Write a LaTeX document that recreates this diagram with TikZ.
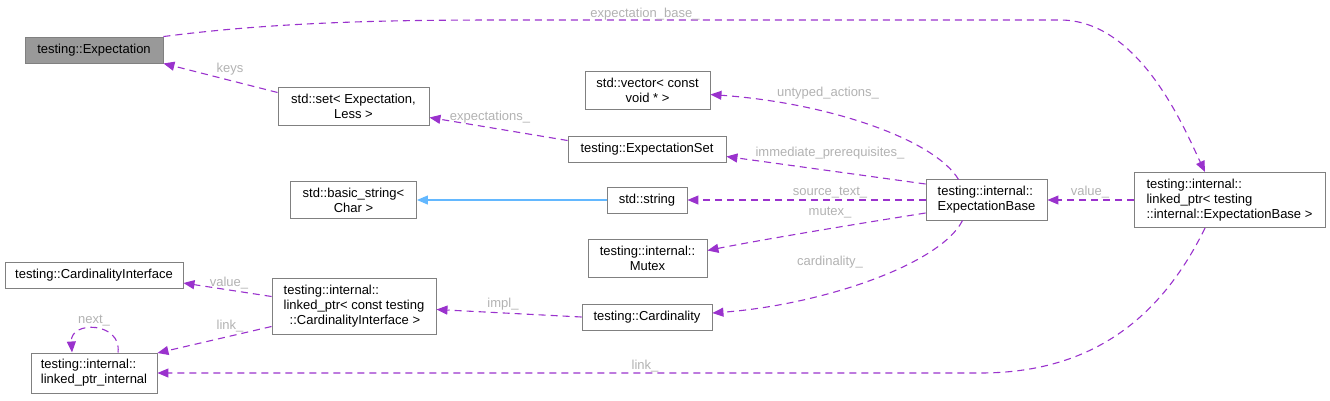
\documentclass[tikz,border=0pt]{standalone}
\usepackage{fontspec}
\setmainfont{Liberation Sans}
\usetikzlibrary{arrows.meta}
\definecolor{relpurple}{HTML}{9A32CD}
\definecolor{inhblue}{HTML}{63B8FF}

\begin{document}
\begin{tikzpicture}[x=1pt,y=-1pt,
  cls/.style={draw=black!50, line width=0.9pt, fill=white, inner xsep=8pt, inner ysep=6.5pt,
    minimum height=26pt, font=\fontsize{13}{15}\selectfont},
  lbl/.style={text=black!30, inner sep=1pt, font=\fontsize{13}{15}\selectfont},
  rel/.style={relpurple, line width=1.1pt, dash pattern=on 7pt off 5pt,
    -{Triangle[length=11pt,width=9pt]}},
  inh/.style={inhblue, line width=1.1pt, -{Triangle[length=11pt,width=9pt]}}]
\useasboundingbox (0,0) rectangle (1330,400);
\node[cls, fill=black!40, minimum width=138pt] (expect) at (94,50) {testing::Expectation};
\node[cls, align=center, minimum width=151pt] (stdset) at (353.5,106.5) {std::set< Expectation,\\Less >};
\node[cls, align=center, minimum width=125pt] (vecvoid) at (647.5,90.5) {std::vector< const\\void * >};
\node[cls, minimum width=158pt] (expset) at (647,149.5) {testing::ExpectationSet};
\node[cls, align=center, minimum width=126pt] (basicstr) at (353.5,200) {std::basic\_string<\\Char >};
\node[cls, minimum width=80pt] (stdstr) at (647,200) {std::string};
\node[cls, align=center, minimum width=119pt] (mutex) at (647.5,258.5) {testing::internal::\\Mutex};
\node[cls, minimum width=178pt] (cardif) at (94,275) {testing::CardinalityInterface};
\node[cls, align=left, minimum width=164pt] (lpcard) at (354,306.5)
  {testing::internal::\\linked\_ptr< const testing\\\hspace*{6pt}::CardinalityInterface >};
\node[cls, minimum width=130pt] (card) at (647,317) {testing::Cardinality};
\node[cls, align=left, minimum width=126pt] (lpint) at (94,373) {testing::internal::\\linked\_ptr\_internal};
\node[cls, align=left, minimum width=121pt] (expbase) at (986.5,200) {testing::internal::\\ExpectationBase};
\node[cls, align=left, minimum width=191pt] (lpexp) at (1229.5,200)
  {testing::internal::\\linked\_ptr< testing\\::internal::ExpectationBase >};

% members
\draw[rel] (expect.north east) .. controls (290,20) and (420,20) .. (520,20) -- (1060,20)
  .. controls (1140,20) and (1185,130) .. ([xshift=-24.5pt]lpexp.north);
\node[lbl] (lexpbase) at (645,14) {expectation\_base\_};
\draw[rel] ([yshift=14pt]stdset.west) -- (expect.south east);
\node[lbl] (lkeys) at (230,69) {keys};
\draw[rel] ([yshift=9pt]expset.west) -- ([yshift=-11pt]stdset.east);
\node[lbl] (lexps) at (490,117) {expectations\_};
\draw[rel] ([xshift=-28pt]expbase.north) .. controls (935,140) and (830,103) .. ([yshift=-4pt]vecvoid.east);
\node[lbl] (luntyped) at (828,93) {untyped\_actions\_};
\draw[rel] ([yshift=16pt]expbase.west) -- ([yshift=-7pt]expset.east);
\node[lbl] (limmed) at (830,153) {immediate\_prerequisites\_};
\draw[rel] (expbase.west) -- (stdstr.east);
\node[lbl] (lsrc) at (830,193) {source\_text\_};
\draw[rel] ([yshift=-13pt]expbase.west) .. controls (850,225) and (760,240) .. ([yshift=8pt]mutex.east);
\node[lbl] (lmutex) at (830,213) {mutex\_};
\draw[rel] ([xshift=-24pt]expbase.south) .. controls (940,265) and (820,305) .. ([yshift=4pt]card.east);
\node[lbl] (lcard) at (830,262) {cardinality\_};
\draw[rel] (lpexp.west) -- (expbase.east);
\node[lbl] (lvalue) at (1090,192) {value\_};
\draw[rel] ([yshift=10pt]lpcard.west) -- ([yshift=-8pt]cardif.east);
\node[lbl] (lvalue2) at (229,283) {value\_};
\draw[rel] ([yshift=-20pt]lpcard.west) -- ([yshift=20pt]lpint.east);
\node[lbl] (llink) at (230,326) {link\_};
\draw[rel] ([xshift=24pt]lpint.north) .. controls (122,322) and (70,320) .. ([xshift=-22pt]lpint.north);
\node[lbl] (lnext) at (94,321) {next\_};
\draw[rel] (card.west) -- ([yshift=-3pt]lpcard.east);
\node[lbl] (limpl) at (503,304) {impl\_};
\draw[rel] ([xshift=-24.5pt]lpexp.south) .. controls (1160,320) and (1090,373) .. (980,373) -- (lpint.east);
\node[lbl] (llink2) at (645,366) {link\_};

% inheritance
\draw[inh] (stdstr.west) -- (basicstr.east);
\end{tikzpicture}
\end{document}
